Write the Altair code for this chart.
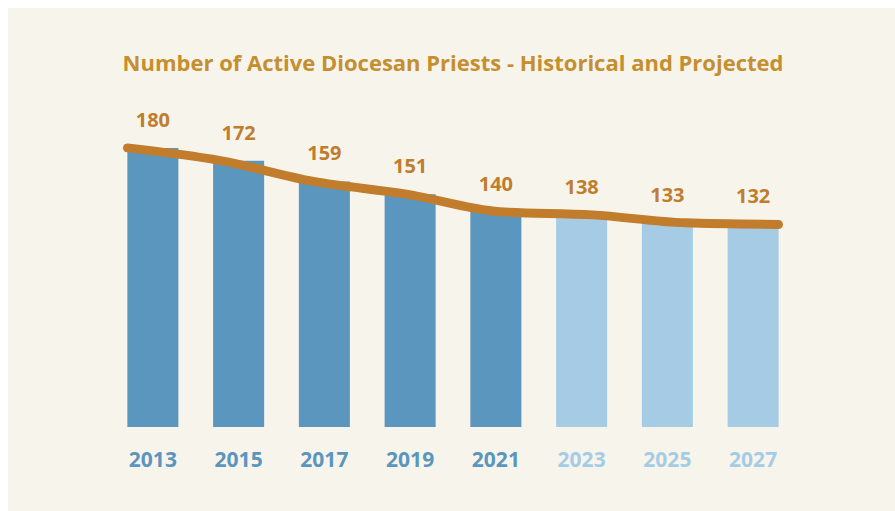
import altair as alt
import pandas as pd

years = ["2013", "2015", "2017", "2019", "2021", "2023", "2025", "2027"]
priests = [180, 172, 159, 151, 140, 138, 133, 132]
status = ["Historical"] * 5 + ["Projected"] * 3
title_text = "Number of Active Diocesan Priests - Historical and Projected"

df = pd.DataFrame({"year": years, "priests": priests, "status": status})

CREAM = "#F7F4EC"
DARK = "#5A96BE"
LIGHT = "#A6CCE5"
ORANGE = "#C17D2C"
LABEL = "#C07D2E"
TITLE = "#C58F2F"
FONT = "Open Sans"

W, H = 686, 311
PAD_L, PAD_T = 110, 116
PAD_R, PAD_B = 895 - PAD_L - W, 511 - PAD_T - H

yscale = alt.Scale(domain=[5, 200], zero=False, clamp=True)
band = alt.Scale(paddingInner=0.405, paddingOuter=0.2025)

bg = alt.Chart(pd.DataFrame({"a": [0]})).mark_rect(color=CREAM).encode(
    x=alt.value(8 - PAD_L), x2=alt.value(W + PAD_R + 10),
    y=alt.value(8 - PAD_T), y2=alt.value(H + PAD_B + 10),
)

bars = alt.Chart(df).mark_bar().encode(
    x=alt.X("year:N", sort=years, scale=band, title=None,
            axis=alt.Axis(ticks=False, domain=False, labelAngle=0, labelPadding=22,
                          labelFont=FONT, labelFontSize=21, labelFontWeight="bold",
                          labelBaseline="top", zindex=2,
                          labelColor=alt.ExprRef(expr=f"toNumber(datum.value) > 2021 ? '{LIGHT}' : '{DARK}'"),
                          grid=False)),
    y=alt.Y("priests:Q", scale=yscale, axis=None),
    color=alt.Color("status:N", scale=alt.Scale(domain=["Historical", "Projected"], range=[DARK, LIGHT]), legend=None),
)

line = alt.Chart(df).mark_line(color=ORANGE, strokeWidth=9, strokeCap="round",
                               strokeJoin="round", interpolate="monotone").encode(
    x=alt.X("year:O", sort=years, scale=alt.Scale(type="point", padding=0.188), axis=None),
    y=alt.Y("priests:Q", scale=yscale, axis=None),
)

text = alt.Chart(df).mark_text(dy=-21, baseline="alphabetic", font=FONT, fontWeight="bold",
                               fontSize=20, color=LABEL).encode(
    x=alt.X("year:N", sort=years, scale=band, axis=None),
    y=alt.Y("priests:Q", scale=yscale, axis=None),
    text="priests:Q",
)

chart = alt.layer(bg, bars, line, text).resolve_scale(x="independent").properties(
    width=W, height=H,
    padding={"left": PAD_L, "top": PAD_T, "right": PAD_R, "bottom": PAD_B},
    autosize=alt.AutoSizeParams(type="none"),
    background="white",
    title=alt.TitleParams(text=title_text, font=FONT, fontSize=22, fontWeight="bold",
                          color=TITLE, anchor="middle", offset=-85, baseline="alphabetic"),
).configure_view(stroke=None)

chart.save("out.html", embed_options={"renderer": "svg", "actions": False})
